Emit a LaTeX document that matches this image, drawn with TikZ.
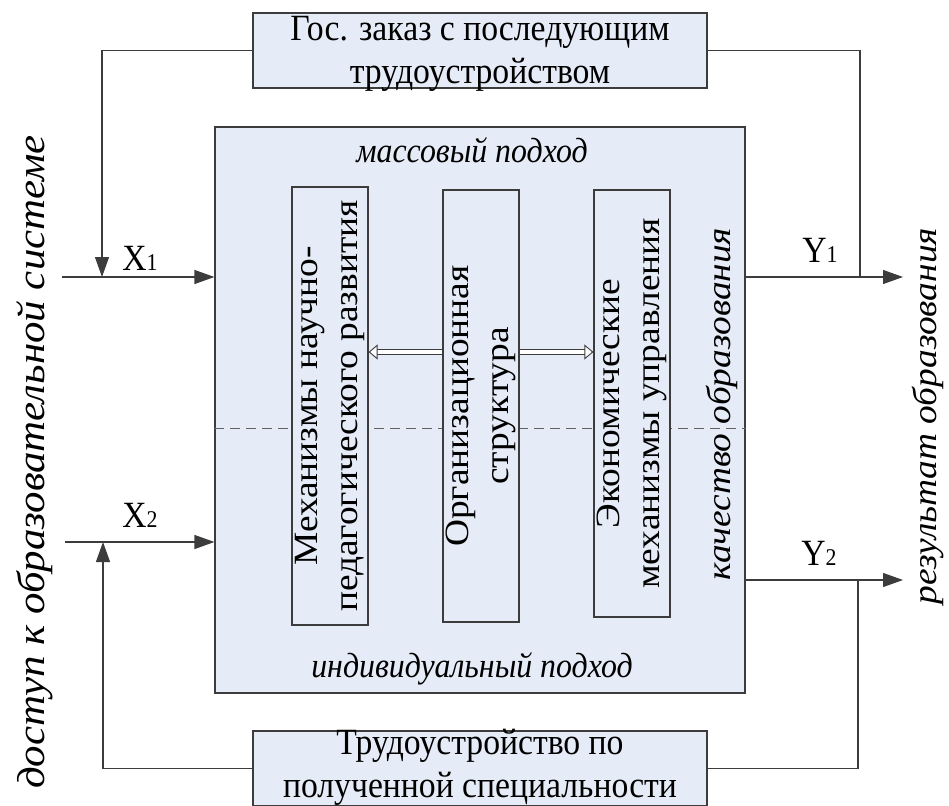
\documentclass[tikz,border=0pt]{standalone}
\usepackage{fontspec}
\setmainfont{Liberation Serif}
\newfontfamily\tallrm[FakeStretch=0.91]{Liberation Serif}
\newfontfamily\widerm[FakeStretch=1.1]{Liberation Serif}
\usetikzlibrary{positioning,arrows.meta}
\definecolor{boxfill}{RGB}{230,236,247}
\definecolor{edge}{RGB}{60,60,60}
\tikzset{
  big/.style={font=\tallrm\fontsize{37}{43}\selectfont},
  slant/.style={font=\tallrm\fontsize{35}{40}\selectfont\itshape},
  side/.style={font=\widerm\fontsize{34}{39}\selectfont\itshape, rotate=90},
  box/.style={draw=edge, fill=boxfill, line width=1.2pt, inner sep=0pt},
  note/.style={box, minimum width=454pt, minimum height=75pt},
  mech/.style={box, font=\widerm\fontsize{34}{40}\selectfont, rotate=90, minimum height=76pt, align=center},
  flow/.style={draw=edge, line width=1.2pt},
  into/.style={flow, -{Triangle[length=20pt,width=14pt]}},
  link/.style={draw=edge, line width=0.9pt, double=white, double distance=4pt,
    -{Triangle[open, fill=white, length=9pt, width=15pt, line width=0.9pt]}},
  split/.style={draw=edge!80, line width=0.9pt, dash pattern=on 10pt off 6pt}
}
\newcommand{\sub}[1]{{\fontsize{24}{24}\selectfont #1}}
\begin{document}
\begin{tikzpicture}[x=1pt, y=-1pt]
  \useasboundingbox (0,0) rectangle (949,805);
  \node[box, minimum width=530pt, minimum height=566pt] (core) at (480,410) {};
  \node[note] (order) at (480,50.5) {};
  \node[big, align=center] (ordertext) at ([yshift=-3pt]order.center) {Гос. заказ с последующим\\трудоустройством};
  \node[note] (job) at (480,768.5) {};
  \node[big, align=center] (jobtext) at ([yshift=1pt]job.center) {Трудоустройство по\\полученной специальности};

  \coordinate (cut) at (0,428);
  \draw[split] (core.west |- cut) -- (core.east |- cut);

  \node[mech, minimum width=438pt] (mech) at (330,406) {Механизмы научно-\\педагогического развития};
  \node[mech, minimum width=432pt] (org) at (481,406) {Организационная\\структура};
  \node[mech, minimum width=427pt] (econ) at (632,403.5) {Экономические\\механизмы управления};

  \node[slant, anchor=base] (mass) at (472,162) {массовый подход};
  \node[slant, anchor=base] (indiv) at (472,677) {индивидуальный подход};
  \node[side] (quality) at (722,404) {качество образования};
  \node[side, font=\widerm\fontsize{39}{40}\selectfont\itshape] (access) at (35,462) {доступ к образовательной системе};
  \node[side] (result) at (928,416) {результат образования};

  \coordinate (dbl) at (0,352);
  \draw[link] (org.north |- dbl) -- (mech.south |- dbl);
  \draw[link] (org.south |- dbl) -- (econ.north |- dbl);

  \coordinate (x1in) at (62,277);
  \coordinate (x1join) at (102,277);
  \coordinate (x2in) at (65,542);
  \coordinate (x2join) at (103,542);
  \coordinate (y1join) at (860,277);
  \coordinate (y1out) at (903,277);
  \coordinate (y2join) at (858,580);
  \coordinate (y2out) at (903,580);

  \draw[into] (x1in) -- (core.west |- x1in);
  \draw[into] (order.west) -| (x1join);
  \draw[into] (x2in) -- (core.west |- x2in);
  \draw[into] (job.west) -| (x2join);
  \draw[flow] (order.east) -| (y1join);
  \draw[into] (core.east |- y1out) -- (y1out);
  \draw[into] (core.east |- y2out) -- (y2out);
  \draw[flow] (y2join) |- (job.east);

  \node[big, anchor=base] (labx1) at (140,270) {X\sub{1}};
  \node[big, anchor=base] (labx2) at (140,527) {X\sub{2}};
  \node[big, anchor=base] (laby1) at (820,262) {Y\sub{1}};
  \node[big, anchor=base] (laby2) at (819,565) {Y\sub{2}};
\end{tikzpicture}
\end{document}
